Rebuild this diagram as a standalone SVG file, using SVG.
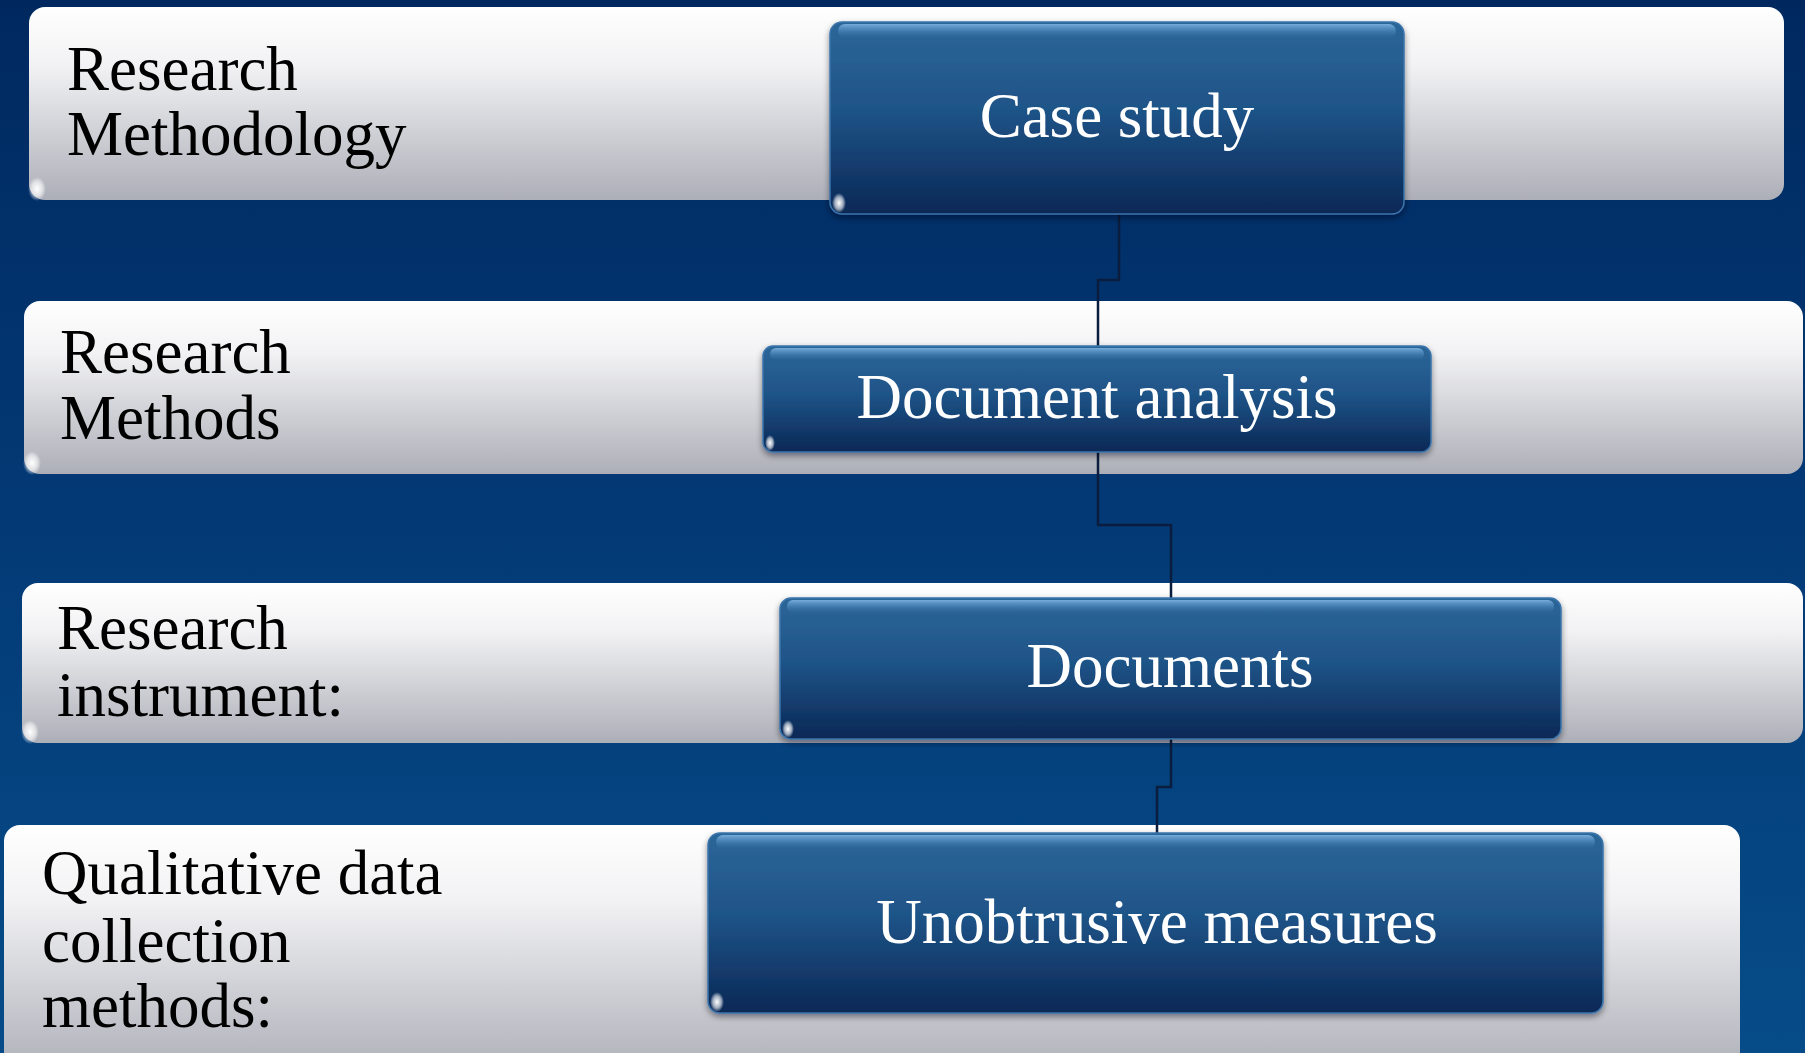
<svg xmlns="http://www.w3.org/2000/svg" width="1805" height="1053" viewBox="0 0 1805 1053">
  <defs>
    <linearGradient id="bg" x1="0" y1="0" x2="0" y2="1">
      <stop offset="0" stop-color="#00285f"/>
      <stop offset="0.5" stop-color="#033a76"/>
      <stop offset="1" stop-color="#064c88"/>
    </linearGradient>
    <linearGradient id="bar" x1="0" y1="0" x2="0" y2="1">
      <stop offset="0" stop-color="#ffffff"/>
      <stop offset="0.3" stop-color="#f2f2f4"/>
      <stop offset="1" stop-color="#adafb8"/>
    </linearGradient>
    <linearGradient id="box" x1="0" y1="0" x2="0" y2="1">
      <stop offset="0" stop-color="#2c6698"/>
      <stop offset="0.45" stop-color="#1f5488"/>
      <stop offset="1" stop-color="#0a2856"/>
    </linearGradient>
    <linearGradient id="gloss" x1="0" y1="0" x2="0" y2="1">
      <stop offset="0" stop-color="#7fb4e2" stop-opacity="0.9"/>
      <stop offset="1" stop-color="#3f7fb8" stop-opacity="0"/>
    </linearGradient>
    <radialGradient id="glint">
      <stop offset="0" stop-color="#ffffff"/>
      <stop offset="0.6" stop-color="#ffffff" stop-opacity="0.6"/>
      <stop offset="1" stop-color="#ffffff" stop-opacity="0"/>
    </radialGradient>
    <filter id="shadow" x="-5%" y="-10%" width="110%" height="130%">
      <feDropShadow dx="0" dy="3" stdDeviation="3" flood-color="#000814" flood-opacity="0.45"/>
    </filter>
  </defs>
  <style>
    .bar { fill: url(#bar); }
    .box { fill: url(#box); stroke: #3a74ac; stroke-width: 1.5; filter: url(#shadow); }
    .gloss { fill: url(#gloss); }
    .glint { fill: url(#glint); }
    .label { font-family: "Liberation Serif", "Times New Roman", serif; font-size: 63px; fill: #000000; }
    .title { font-family: "Liberation Serif", "Times New Roman", serif; font-size: 63px; fill: #ffffff; text-anchor: middle; }
    .conn { fill: none; stroke: #0a1d3e; stroke-width: 2.5; }
  </style>

  <rect x="0" y="0" width="1805" height="1053" fill="url(#bg)"/>

  <!-- level bands -->
  <g id="band-methodology">
    <rect class="bar" x="29" y="7" width="1755" height="193" rx="16"/>
    <ellipse class="glint" cx="37" cy="189" rx="9" ry="12"/>
    <text class="label" x="67" y="90">Research</text>
    <text class="label" x="67" y="155">Methodology</text>
  </g>
  <g id="band-methods">
    <rect class="bar" x="24" y="301" width="1779" height="173" rx="16"/>
    <ellipse class="glint" cx="32" cy="463" rx="9" ry="12"/>
    <text class="label" x="60" y="373">Research</text>
    <text class="label" x="60" y="439">Methods</text>
  </g>
  <g id="band-instrument">
    <rect class="bar" x="22" y="583" width="1781" height="160" rx="16"/>
    <ellipse class="glint" cx="30" cy="732" rx="9" ry="12"/>
    <text class="label" x="57" y="649">Research</text>
    <text class="label" x="57" y="716">instrument:</text>
  </g>
  <g id="band-collection">
    <rect class="bar" x="4" y="825" width="1736" height="250" rx="16"/>
    <text class="label" x="42" y="894">Qualitative data</text>
    <text class="label" x="42" y="962">collection</text>
    <text class="label" x="42" y="1027">methods:</text>
  </g>

  <!-- connectors -->
  <g id="connectors">
    <path class="conn" d="M1119 214 V280 H1098 V346"/>
    <path class="conn" d="M1098 452 V525 H1171 V598"/>
    <path class="conn" d="M1171 739 V787 H1157 V833"/>
  </g>

  <!-- content boxes -->
  <g id="case-study">
    <rect class="box" x="830" y="22" width="574" height="192" rx="12"/>
    <rect class="gloss" x="838" y="24" width="558" height="14" rx="7"/>
    <ellipse class="glint" cx="839" cy="203" rx="7" ry="10"/>
    <text class="title" x="1117" y="137">Case study</text>
  </g>
  <g id="document-analysis">
    <rect class="box" x="763" y="346" width="668" height="106" rx="10"/>
    <rect class="gloss" x="770" y="348" width="654" height="12" rx="6"/>
    <ellipse class="glint" cx="770" cy="443" rx="5" ry="8"/>
    <text class="title" x="1097" y="418">Document analysis</text>
  </g>
  <g id="documents">
    <rect class="box" x="780" y="598" width="781" height="141" rx="11"/>
    <rect class="gloss" x="787" y="600" width="767" height="13" rx="6"/>
    <ellipse class="glint" cx="788" cy="729" rx="6" ry="9"/>
    <text class="title" x="1170" y="687">Documents</text>
  </g>
  <g id="unobtrusive-measures">
    <rect class="box" x="708" y="833" width="895" height="180" rx="12"/>
    <rect class="gloss" x="716" y="835" width="879" height="14" rx="7"/>
    <ellipse class="glint" cx="717" cy="1002" rx="7" ry="10"/>
    <text class="title" x="1157" y="943">Unobtrusive measures</text>
  </g>
</svg>
